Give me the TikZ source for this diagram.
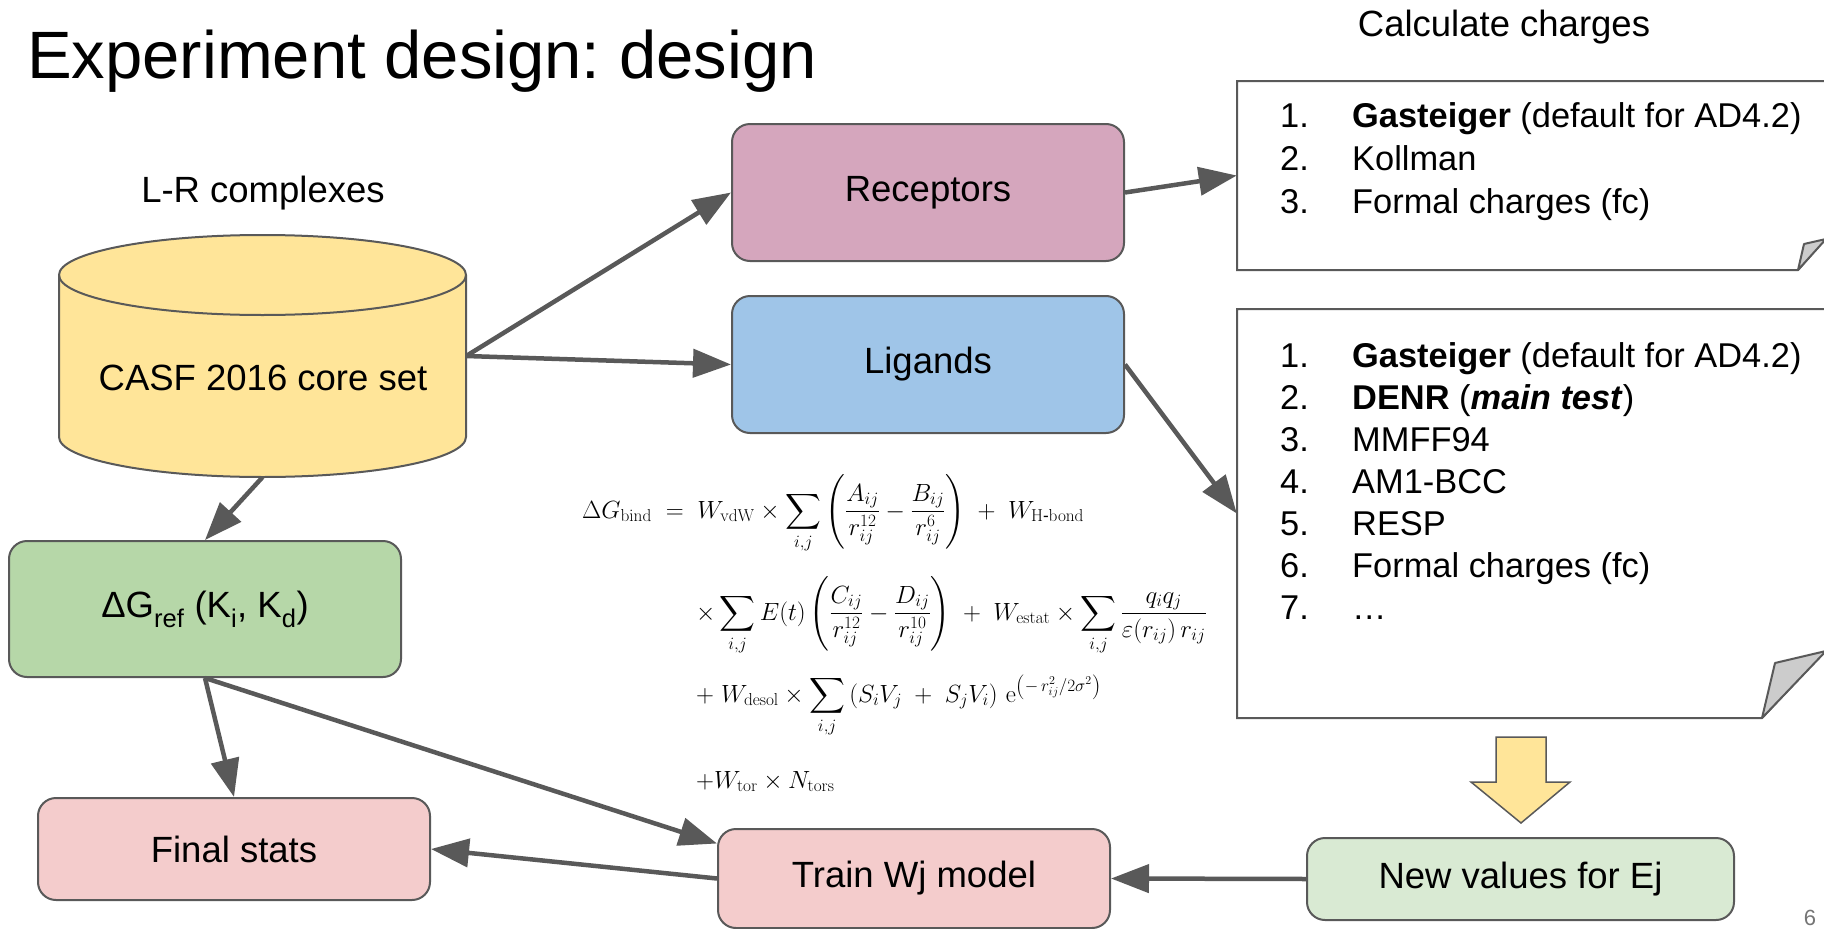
\documentclass[tikz,border=0pt]{standalone}
\usepackage{amsmath}
\usepackage[no-math]{fontspec}
\setmainfont{Liberation Sans}
\usetikzlibrary{arrows.meta,calc}
\definecolor{ln}{HTML}{595959}
\definecolor{cylc}{HTML}{FFE599}
\definecolor{recc}{HTML}{D5A6BD}
\definecolor{ligc}{HTML}{9FC5E8}
\definecolor{dgc}{HTML}{B6D7A8}
\definecolor{pinkc}{HTML}{F4CCCC}
\definecolor{nvc}{HTML}{D9EAD3}
\definecolor{foldc}{HTML}{CCCCCC}
\definecolor{pgc}{HTML}{757575}
\newcommand\bxfont{\fontsize{36.5}{44}\selectfont}
\newcommand\lstfontA{\fontsize{34.4}{43}\selectfont}
\newcommand\lstfontB{\fontsize{34.4}{42.1}\selectfont}
\newcommand\mfont{\fontsize{24.5}{29}\selectfont}
\frenchspacing
\tikzset{
  boxst/.style={draw=ln, line width=2pt, rounded corners=18pt, inner sep=0pt, font=\bxfont},
  arr/.style={draw=ln, line width=4.5pt, -{Triangle[length=38pt,width=28pt]}},
  outl/.style={draw=ln, line width=2pt},
  lbl/.style={inner sep=0pt, font=\bxfont},
  eqline/.style={anchor=base west, inner sep=0pt, font=\mfont},
}
\begin{document}
\begin{tikzpicture}[x=1pt,y=-1pt]
\useasboundingbox (0,0) rectangle (1824,929);
\fill[white] (0,0) rectangle (1824,929);

% title
\node[anchor=base west, inner sep=0pt, font=\fontsize{67}{80}\selectfont] (title) at (27,78) {Experiment design: design};
\node[anchor=base, lbl] (calc) at (1504,36) {Calculate charges};
\node[lbl] (lr) at (263,193) {L-R complexes};

% cylinder
\path[fill=cylc] (59,275) -- (59,437) arc[start angle=180,end angle=360,x radius=203.5pt,y radius=40pt] -- (466,275) arc[start angle=0,end angle=180,x radius=203.5pt,y radius=40pt] -- cycle;
\draw[outl] (59,275) -- (59,437) arc[start angle=180,end angle=360,x radius=203.5pt,y radius=40pt] -- (466,275) arc[start angle=0,end angle=180,x radius=203.5pt,y radius=40pt] -- cycle;
\draw[outl] (59,275) arc[start angle=180,end angle=360,x radius=203.5pt,y radius=40pt];
\node[minimum width=407pt, minimum height=242pt, inner sep=0pt] (cyl) at (262.5,356) {};
\node[lbl] (casf) at (263,378) {CASF 2016 core set};

% boxes
\node[boxst, fill=recc, minimum width=392pt, minimum height=137pt] (rec) at (928,192.5) {Receptors};
\node[boxst, fill=ligc, minimum width=392pt, minimum height=137pt] (lig) at (928,364.5) {Ligands};
\node[boxst, fill=dgc, minimum width=392pt, minimum height=136pt] (dg) at (205,609) {ΔG\textsubscript{ref} (K\textsubscript{i}, K\textsubscript{d})};
\node[boxst, fill=pinkc, minimum width=392pt, minimum height=102pt] (fs) at (234,849) {Final stats};
\node[boxst, fill=pinkc, minimum width=392pt, minimum height=99pt] (tw) at (914,878.5) {Train Wj model};
\node[boxst, fill=nvc, minimum width=427pt, minimum height=82pt] (nv) at (1520.5,879) {New values for Ej};

% notes
\draw[outl, fill=white] (1826,81) -- (1237,81) -- (1237,270) -- (1798,270) -- (1826,238);
\draw[outl, fill=foldc, line join=round] (1798,270) -- (1804,244) -- (1826,239) -- cycle;
\node[minimum width=587pt, minimum height=189pt, inner sep=0pt] (n1) at (1530.5,175.5) {};
\draw[outl, fill=white] (1826,309) -- (1237,309) -- (1237,718) -- (1762,718) -- (1826,650);
\draw[outl, fill=foldc, line join=round] (1762,718) -- (1775,663) -- (1826,651) -- cycle;
\node[minimum width=587pt, minimum height=409pt, inner sep=0pt] (n2) at (1530.5,513.5) {};

\node[anchor=base west, inner sep=0pt] (list1) at (1280,127) {\lstfontA\begin{tabular}[t]{@{}p{72pt}@{}l@{}}
1. & \textbf{Gasteiger} (default for AD4.2)\\
2. & Kollman\\
3. & Formal charges (fc)
\end{tabular}};
\node[anchor=base west, inner sep=0pt] (list2) at (1280,367) {\lstfontB\begin{tabular}[t]{@{}p{72pt}@{}l@{}}
1. & \textbf{Gasteiger} (default for AD4.2)\\
2. & \textbf{DENR} (\textbf{\textit{main test}})\\
3. & MMFF94\\
4. & AM1-BCC\\
5. & RESP\\
6. & Formal charges (fc)\\
7. & …
\end{tabular}};

% yellow block arrow
\draw[draw=ln, line width=1.5pt, fill=cylc, line join=miter] (1496,737) -- (1546,737) -- (1546,782) -- (1570,782) -- (1521,823) -- (1471,782) -- (1496,782) -- cycle;

% formula
\node[eqline] (eq1) at (582,518) {$\displaystyle \Delta G_{\mathrm{bind}} \;=\; W_{\mathrm{vdW}} \times \sum_{i,j} \left(\frac{A_{ij}}{r_{ij}^{12}} - \frac{B_{ij}}{r_{ij}^{6}}\right) \;+\; W_{\mathrm{H\text{-}bond}}$};
\node[eqline] (eq2) at (696,620) {$\displaystyle \times \sum_{i,j} E(t)\left(\frac{C_{ij}}{r_{ij}^{12}} - \frac{D_{ij}}{r_{ij}^{10}}\right) \;+\; W_{\mathrm{estat}} \times \sum_{i,j} \frac{q_i q_j}{\varepsilon(r_{ij})\, r_{ij}}$};
\node[eqline] (eq3) at (696,702) {$\displaystyle +\; W_{\mathrm{desol}} \times \sum_{i,j} \left(S_i V_j \;+\; S_j V_i\right)\, \mathrm{e}^{\left(-\,r_{ij}^2/2\sigma^2\right)}$};
\node[eqline] (eq4) at (696,788) {$\displaystyle + W_{\mathrm{tor}} \times N_{\mathrm{tors}}$};

% page number
\node[anchor=base, inner sep=0pt, text=pgc, font=\fontsize{22}{26}\selectfont] (pg) at (1810,925) {6};

% connectors
\draw[arr] (cyl.east) -- (rec.west);
\draw[arr] (cyl.east) -- (lig.west);
\draw[arr] (rec.east) -- (n1.west);
\draw[arr] (lig.east) -- (n2.west);
\draw[arr] (cyl.south) -- (dg.north);
\draw[arr] (dg.south) -- (fs.north);
\draw[arr] (dg.south) -- ([yshift=35pt]tw.west);
\draw[arr] (tw.west) -- (fs.east);
\draw[arr] (nv.west) -- (tw.east);
\end{tikzpicture}
\end{document}
